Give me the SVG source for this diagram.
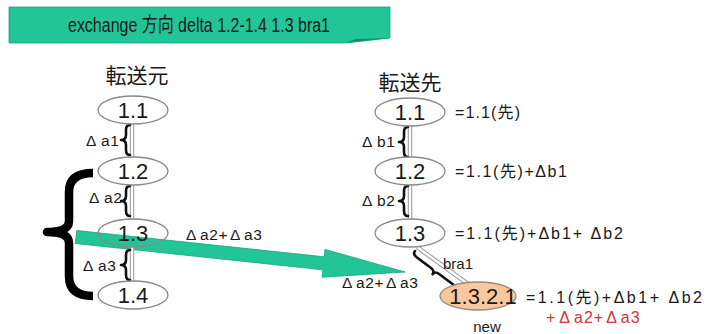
<svg xmlns="http://www.w3.org/2000/svg" width="707" height="334" viewBox="0 0 707 334">
<style>
.bg{fill:#ffffff}
.t{font-family:"Liberation Sans","Noto Sans CJK JP",Arial,sans-serif;fill:#1a1a1a}
.h{font-size:21px}
.nt{font-size:22px;text-anchor:middle}
.lb{font-size:15.5px;letter-spacing:0.6px}
.eq{font-size:16px}
.n{fill:#ffffff;stroke:#8a8a8a;stroke-width:1.3}
.nn{fill:none;stroke:#8a8a8a;stroke-width:1.3}
.new{fill:#f8c79d;stroke:#9a8c7e;stroke-width:1.3}
.co{stroke:#9a9a9a;stroke-width:4.5;fill:none}
.ci{stroke:#ffffff;stroke-width:2.4;fill:none}
.br{fill:none;stroke:#111;stroke-width:2.6;stroke-linejoin:round;stroke-linecap:round}
.big{fill:none;stroke:#000;stroke-width:8.5;stroke-linejoin:round}
.green{fill:#21c596;stroke:#18a47c;stroke-width:0.8}
.red{fill:#d8323c}
</style>
<rect class="bg" x="0" y="0" width="707" height="334"/>

<g id="banner">
<polygon class="green" points="9,7 390,7 390,38 345,43 9,43"/>
<polygon points="345,43 356,39 390,38" fill="#159070"/>
<text class="t" x="199" y="32" font-size="20" text-anchor="middle" textLength="262" lengthAdjust="spacingAndGlyphs">exchange 方向 delta 1.2-1.4 1.3 bra1</text>
</g>

<g id="connectors">
<polygon class="green" points="76.7,230.5 324.2,256.8 325,249.4 405,272 322,277.2 322.8,269.8 75.3,243.5"/>
<line class="co" x1="132" y1="123" x2="132" y2="158"/>
<line class="ci" x1="132" y1="123" x2="132" y2="158"/>
<line class="co" x1="132" y1="185" x2="132" y2="220"/>
<line class="ci" x1="132" y1="185" x2="132" y2="220"/>
<line class="co" x1="132" y1="247" x2="132" y2="282"/>
<line class="ci" x1="132" y1="247" x2="132" y2="282"/>
<line class="co" x1="410" y1="125" x2="410" y2="158"/>
<line class="ci" x1="410" y1="125" x2="410" y2="158"/>
<line class="co" x1="410" y1="184" x2="410" y2="220"/>
<line class="ci" x1="410" y1="184" x2="410" y2="220"/>
<line class="co" x1="417" y1="247" x2="468" y2="284"/>
<line class="ci" x1="417" y1="247" x2="468" y2="284"/>
<path class="br" d="M130,125 Q126,125 126,130 L126,135 Q126,140 121,140 Q126,140 126,145 L126,150 Q126,155 130,155"/>
<path class="br" d="M130,186 Q126,186 126,191 L126,196 Q126,201 121,201 Q126,201 126,206 L126,211 Q126,216 130,216"/>
<path class="br" d="M130,250 Q126,250 126,255 L126,260 Q126,265 121,265 Q126,265 126,270 L126,275 Q126,280 130,280"/>
<path class="br" d="M408,127 Q404,127 404,132 L404,137 Q404,142 399,142 Q404,142 404,147 L404,152 Q404,157 408,157"/>
<path class="br" d="M408,186 Q404,186 404,191 L404,196 Q404,201 399,201 Q404,201 404,206 L404,211 Q404,216 408,216"/>
<path class="br" transform="translate(415,251) rotate(36.7)" d="M0,0 Q0,4 5,4 L23,4 Q28,4 28,8 Q28,4 33,4 L51,4 Q56,4 56,0"/>
<path class="big" d="M93,173 Q69,173 69,192 L69,221 Q69,232 47,232 Q69,232 69,243 L69,276 Q69,296 93,296"/>
</g>

<text class="t h" x="137" y="83" text-anchor="middle">転送元</text>
<text class="t h" x="410" y="90" text-anchor="middle">転送先</text>

<g id="L11"><ellipse class="n" cx="133" cy="110" rx="35" ry="14"/><text class="t nt" x="133" y="118">1.1</text></g>
<g id="L12"><ellipse class="n" cx="133" cy="171" rx="35" ry="14"/><text class="t nt" x="133" y="179">1.2</text></g>
<g id="L13"><ellipse class="nn" cx="133" cy="233" rx="35" ry="14"/><text class="t nt" x="133" y="241">1.3</text></g>
<g id="L14"><ellipse class="n" cx="133" cy="295" rx="35" ry="14"/><text class="t nt" x="133" y="303">1.4</text></g>

<g id="R11"><ellipse class="n" cx="410" cy="112" rx="35" ry="14"/><text class="t nt" x="410" y="120">1.1</text></g>
<g id="R12"><ellipse class="n" cx="410" cy="171" rx="35" ry="14"/><text class="t nt" x="410" y="179">1.2</text></g>
<g id="R13"><ellipse class="n" cx="410" cy="233" rx="35" ry="14"/><text class="t nt" x="410" y="241">1.3</text></g>
<g id="R1321"><ellipse class="new" cx="478" cy="296" rx="38" ry="14"/><text class="t nt" x="483" y="304">1.3.2.1</text></g>

<g id="labels">
<text class="t lb" x="86" y="146">Δ<tspan dx="4">a1</tspan></text>
<text class="t lb" x="89" y="203">Δ<tspan dx="4">a2</tspan></text>
<text class="t lb" x="83" y="271">Δ<tspan dx="4">a3</tspan></text>
<text class="t lb" x="186" y="240">Δ<tspan dx="3">a2+</tspan><tspan dx="2">Δ</tspan><tspan dx="3">a3</tspan></text>
<text class="t lb" x="362" y="147">Δ<tspan dx="4">b1</tspan></text>
<text class="t lb" x="362" y="206">Δ<tspan dx="4">b2</tspan></text>
<text class="t" x="443" y="269" font-size="15">bra1</text>
<text class="t lb" x="342" y="288">Δ<tspan dx="3">a2+</tspan><tspan dx="2">Δ</tspan><tspan dx="3">a3</tspan></text>
<text class="t eq" x="455" y="118" textLength="65" lengthAdjust="spacing">=1.1(先)</text>
<text class="t eq" x="455" y="177" textLength="112" lengthAdjust="spacing">=1.1(先)+Δb1</text>
<text class="t eq" x="455" y="239" textLength="168" lengthAdjust="spacing">=1.1(先)+Δb1+ Δb2</text>
<text class="t eq" x="526" y="303" textLength="176" lengthAdjust="spacing">=1.1(先)+Δb1+ Δb2</text>
<text class="t eq red" x="546" y="323" letter-spacing="1">+<tspan dx="3">Δ</tspan><tspan dx="3">a2+</tspan><tspan dx="2">Δ</tspan><tspan dx="3">a3</tspan></text>
<text class="t" x="487" y="332" font-size="15" text-anchor="middle">new</text>
</g>
</svg>
